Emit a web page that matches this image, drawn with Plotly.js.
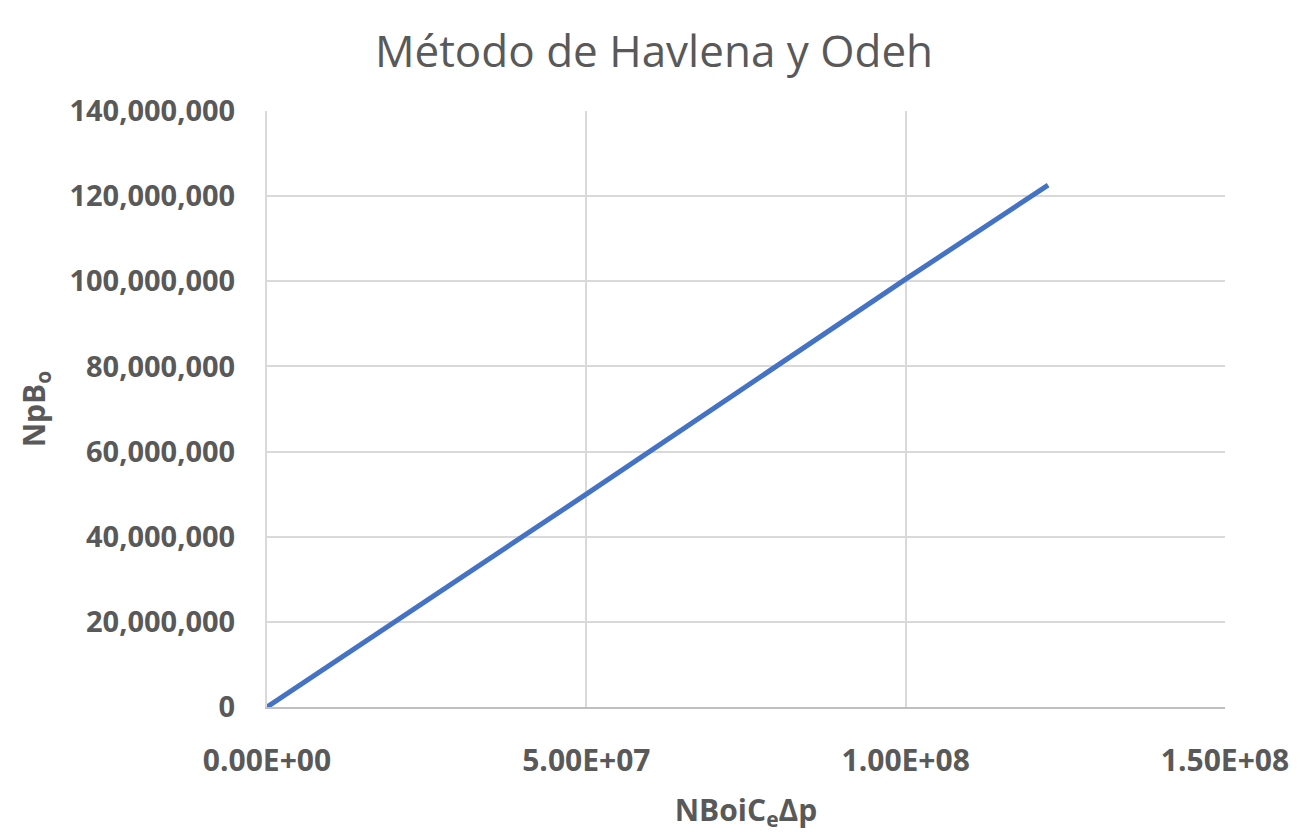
<!DOCTYPE html>
<html>
<head>
<meta charset="utf-8">
<script src="https://cdn.plot.ly/plotly-3.0.1.min.js"></script>
<style>html,body{margin:0;padding:0;background:#fff;}#chart{width:1308px;height:840px;}</style>
</head>
<body>
<div id="chart"></div>
<script>
// Data
const xValues = [0, 20000000, 50000000, 100000000, 122300000];
const yValues = [0, 20000000, 50000000, 100500000, 122600000];
const xTickVals = [0, 50000000, 100000000, 150000000];
const xTickText = ["0.00E+00", "5.00E+07", "1.00E+08", "1.50E+08"];
const yTickVals = [0, 20000000, 40000000, 60000000, 80000000, 100000000, 120000000, 140000000];

const trace = {
  x: xValues, y: yValues, type: 'scatter', mode: 'lines',
  line: {color: '#4472C4', width: 5}, hoverinfo: 'none'
};
const layout = {
  width: 1308, height: 840,
  margin: {l: 267, r: 83, t: 111, b: 133},
  paper_bgcolor: '#fff', plot_bgcolor: '#fff',
  showlegend: false,
  title: {text: 'Método de Havlena y Odeh', x: 0.5, xanchor: 'center', y: 0.938, yanchor: 'middle',
          font: {family: 'Open Sans, sans-serif', size: 44, color: '#595959'}},
  xaxis: {
    range: [0, 150000000], tickvals: xTickVals, ticktext: xTickText,
    showgrid: true, gridcolor: '#d9d9d9', gridwidth: 2,
    showline: true, linecolor: '#bfbfbf', linewidth: 2, zeroline: false,
    ticks: '', ticklabelstandoff: 26,
    tickfont: {family: 'Open Sans, sans-serif', size: 30, color: '#595959', weight: 'bold'},
    title: {text: 'NBoiC<sub>e</sub>Δp', standoff: 21,
            font: {family: 'Open Sans, sans-serif', size: 30, color: '#595959', weight: 'bold'}}
  },
  yaxis: {
    range: [0, 140000000], tickvals: yTickVals, tickformat: ',d',
    showgrid: true, gridcolor: '#d9d9d9', gridwidth: 2,
    showline: true, linecolor: '#d9d9d9', linewidth: 2, zeroline: false,
    ticks: '', ticklabelstandoff: 24,
    tickfont: {family: 'Open Sans, sans-serif', size: 29, color: '#595959', weight: 'bold'},
    title: {text: 'NpB<sub>o</sub>', standoff: 15,
            font: {family: 'Open Sans, sans-serif', size: 30, color: '#595959', weight: 'bold'}}
  }
};
Plotly.newPlot('chart', [trace], layout, {displayModeBar: false, staticPlot: true});
</script>
</body>
</html>
